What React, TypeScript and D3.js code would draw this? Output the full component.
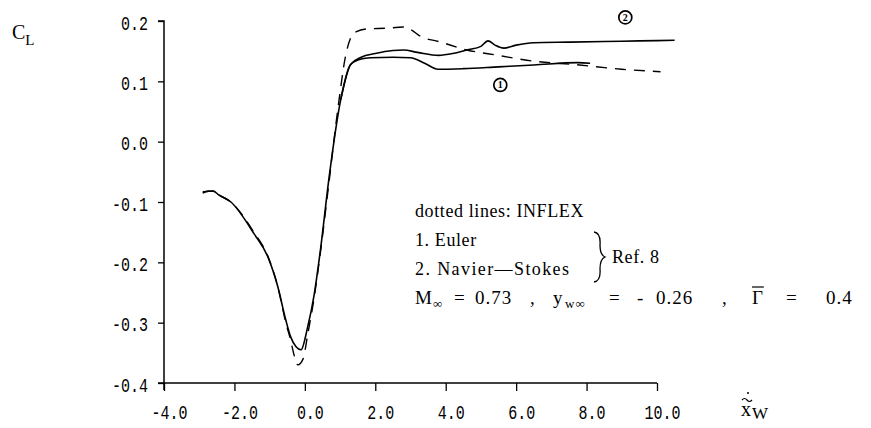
import * as d3 from "d3";
import { useEffect, useRef } from "react";

// INFLEX comparison, lift coefficient vs wake position
const eulerX = [-2.9, -2.75, -2.6, -2.45, -2.1, -1.45, -1.05, -0.77, -0.54, -0.4, -0.25, -0.11, 0.08, 0.26, 0.45, 0.68, 1.02, 1.3, 1.6, 1.87, 2.5, 3.0, 3.4, 3.78, 4.5, 5.5, 6.5, 7.75, 8.1];
const eulerCL = [-0.085, -0.082, -0.082, -0.088, -0.1, -0.152, -0.191, -0.24, -0.296, -0.324, -0.34, -0.345, -0.307, -0.255, -0.176, -0.063, 0.07, 0.128, 0.137, 0.139, 0.14, 0.139, 0.13, 0.12, 0.121, 0.124, 0.127, 0.131, 0.13];

const nsX = [1.3, 1.6, 2.0, 2.5, 2.8, 3.2, 3.8, 4.2, 4.6, 5.0, 5.2, 5.4, 5.65, 6.0, 6.5, 7.5, 8.5, 9.5, 10.5];
const nsCL = [0.128, 0.14, 0.146, 0.151, 0.152, 0.148, 0.143, 0.146, 0.152, 0.158, 0.167, 0.16, 0.155, 0.16, 0.164, 0.165, 0.166, 0.167, 0.168];

const inflexX = [-2.9, -2.6, -2.45, -2.1, -1.45, -1.05, -0.77, -0.54, -0.4, -0.3, -0.2, -0.05, 0.08, 0.26, 0.45, 0.68, 0.95, 1.15, 1.3, 1.45, 1.8, 2.3, 2.8, 3.0, 3.3, 3.8, 4.6, 5.5, 6.3, 7.8, 9.0, 10.1];
const inflexCL = [-0.083, -0.082, -0.088, -0.1, -0.15, -0.19, -0.24, -0.3, -0.33, -0.355, -0.37, -0.36, -0.32, -0.26, -0.18, -0.07, 0.06, 0.14, 0.172, 0.182, 0.187, 0.188, 0.19, 0.186, 0.174, 0.166, 0.152, 0.143, 0.135, 0.127, 0.12, 0.116];

const xTicks = [-4, -2, 0, 2, 4, 6, 8, 10];
const yTicks = [0.2, 0.1, 0.0, -0.1, -0.2, -0.3, -0.4];

const legendLines = ["dotted lines: INFLEX", "1. Euler", "2. Navier\u2014Stokes"];

export default function App() {
  const ref = useRef<SVGSVGElement>(null);

  useEffect(() => {
    const svg = d3.select(ref.current);
    svg.selectAll("*").remove();

    const x = d3.scaleLinear().domain([-4, 10]).range([164, 657]);
    const y = d3.scaleLinear().domain([-0.4, 0.2]).range([383, 21]);

    const tickFont = "'Liberation Mono', monospace";
    const serif = "'Liberation Serif', 'DejaVu Serif', serif";
    const fmt = (d: number) => d.toFixed(1);

    // axes
    const gx = svg.append("g").attr("transform", `translate(0,${y(-0.4)})`);
    gx.call(d3.axisBottom(x).tickValues(xTicks).tickSize(8).tickFormat(() => ""));
    gx.select(".domain").attr("stroke-width", 1.5).attr("d", `M${x(-4) - 6},0H${x(10)}`);
    gx.selectAll("line").attr("stroke-width", 1.3);
    gx.selectAll(".tick")
      .append("text")
      .attr("transform", "translate(5,36) scale(1,1.35)")
      .attr("text-anchor", "middle")
      .attr("fill", "#000")
      .style("font-family", tickFont)
      .style("font-size", "15px")
      .text((d: any) => fmt(d));

    const gy = svg.append("g").attr("transform", `translate(${x(-4)},0)`);
    gy.call(d3.axisLeft(y).tickValues(yTicks).tickSize(6).tickFormat(() => ""));
    gy.select(".domain").attr("stroke-width", 1.5).attr("d", `M-6,${y(0.2)}H0V${y(-0.4) + 7}`);
    gy.selectAll("line").attr("stroke-width", 1.3);
    gy.selectAll(".tick")
      .append("text")
      .attr("transform", "translate(-16,8) scale(1,1.3)")
      .attr("text-anchor", "end")
      .attr("fill", "#000")
      .style("font-family", tickFont)
      .style("font-size", "15px")
      .text((d: any) => fmt(d));

    // curves
    const line = d3
      .line<[number, number]>()
      .x(d => x(d[0]))
      .y(d => y(d[1]))
      .curve(d3.curveMonotoneX);

    const euler = eulerX.map((v, i) => [v, eulerCL[i]] as [number, number]);
    const ns = nsX.map((v, i) => [v, nsCL[i]] as [number, number]);
    const inflex = inflexX.map((v, i) => [v, inflexCL[i]] as [number, number]);

    svg.append("path").attr("d", line(inflex)).attr("fill", "none")
      .attr("stroke", "#000").attr("stroke-width", 1.4).attr("stroke-dasharray", "11,8");
    svg.append("path").attr("d", line(euler)).attr("fill", "none")
      .attr("stroke", "#000").attr("stroke-width", 1.6);
    svg.append("path").attr("d", line([euler[16], ...ns])).attr("fill", "none")
      .attr("stroke", "#000").attr("stroke-width", 1.6);

    // circled curve numbers
    const marks = [{ n: "1", v: 5.55, c: 0.094 }, { n: "2", v: 9.1, c: 0.206 }];
    marks.forEach(m => {
      svg.append("circle").attr("cx", x(m.v)).attr("cy", y(m.c)).attr("r", 6.5)
        .attr("fill", "none").attr("stroke", "#000").attr("stroke-width", 1.7);
      svg.append("text").attr("x", x(m.v)).attr("y", y(m.c) + 3.5)
        .attr("text-anchor", "middle").style("font-family", serif)
        .style("font-size", "10px").style("font-weight", "bold").text(m.n);
    });

    // axis titles
    const cl = svg.append("text").attr("x", 12).attr("y", 39)
      .style("font-family", serif).style("font-size", "20px");
    cl.append("tspan").text("C");
    cl.append("tspan").attr("dy", 6).style("font-size", "15px").text("L");

    svg.append("text").attr("x", 741).attr("y", 416)
      .style("font-family", serif).style("font-size", "20px").text("x");
    svg.append("path").attr("d", "M742,400 q2.5,-3 5,0 t5,0")
      .attr("fill", "none").attr("stroke", "#000").attr("stroke-width", 1.2);
    svg.append("circle").attr("cx", 748).attr("cy", 393).attr("r", 1).attr("fill", "#000");
    svg.append("text").attr("x", 752).attr("y", 419)
      .style("font-family", serif).style("font-size", "17px").text("W");

    // annotation block
    const note = svg.append("g").style("font-family", serif).style("font-size", "18px");
    legendLines.forEach((t, i) => {
      note.append("text").attr("x", 415).attr("y", 217 + i * 29)
        .attr("letter-spacing", i === 2 ? 1.4 : 0.6).text(t);
    });
    note.append("path")
      .attr("d", "M594,232 Q601,233 600,245 Q600,255 605,257 Q600,259 600,269 Q601,281 594,282")
      .attr("fill", "none").attr("stroke", "#000").attr("stroke-width", 1.3);
    note.append("text").attr("x", 612).attr("y", 263).attr("letter-spacing", 0.6).text("Ref. 8");

    // flow conditions line
    const cond = note.append("g").style("font-size", "19px");
    const pieces: [number, string, boolean][] = [
      [415, "M", false], [433, "\u221e", true], [454, "=", false], [475, "0.73", false],
      [530, ",", false], [553, "y", false], [565, "w\u221e", true], [609, "=", false],
      [637, "-", false], [656, "0.26", false], [722, ",", false], [752, "\u0393", false],
      [786, "=", false], [826, "0.4", false],
    ];
    pieces.forEach(([px, t, sub]) => {
      const tx = cond.append("text").attr("x", px).attr("y", sub ? 308 : 304)
        .attr("letter-spacing", 1).text(t);
      if (sub) tx.style("font-size", "13px");
    });
    cond.append("line").attr("x1", 752).attr("x2", 764).attr("y1", 287).attr("y2", 287)
      .attr("stroke", "#000").attr("stroke-width", 1.2);
  }, []);

  return (
    <svg
      ref={ref}
      width={871}
      height={428}
      style={{ position: "absolute", left: 0, top: 0, background: "#fff" }}
    />
  );
}
